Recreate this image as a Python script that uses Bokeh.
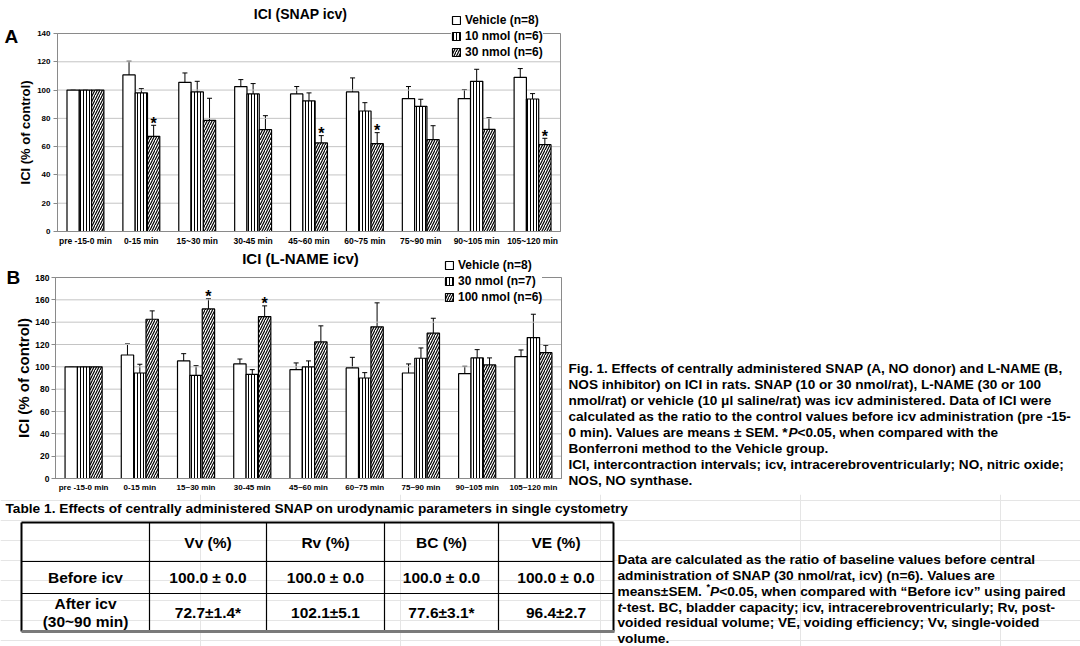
import numpy as np
from bokeh.plotting import figure
from bokeh.models import (ColumnDataSource, Range1d, FixedTicker, Whisker, TeeHead,
                          Legend, LegendItem)
from bokeh.layouts import column
from bokeh.embed import file_html
from bokeh.resources import INLINE
from bokeh.core.properties import value

FONT = "Liberation Sans"

# ---------------- data ----------------
time_labels = ["pre -15-0 min", "0-15 min", "15~30 min", "30-45 min", "45~60 min",
               "60~75 min", "75~90 min", "90~105 min", "105~120 min"]

# Panel A: ICI (SNAP icv)
snap_names = ["Vehicle (n=8)", "10 nmol (n=6)", "30 nmol (n=6)"]
snap_vehicle = [100, 110.7, 105.5, 102.5, 97.3, 98.7, 94.0, 94.0, 109.0]
snap_vehicle_sem = [0, 9.7, 6.6, 4.9, 5.2, 9.9, 8.5, 6.3, 6.2]
snap_10 = [100, 98.0, 98.7, 97.3, 92.3, 85.2, 88.5, 106.2, 93.7]
snap_10_sem = [0, 3.0, 7.5, 7.3, 5.7, 5.9, 5.0, 8.5, 3.8]
snap_30 = [100, 67.3, 78.6, 72.0, 62.6, 62.1, 64.9, 72.2, 61.4]
snap_30_sem = [0, 7.8, 15.6, 9.9, 5.2, 7.8, 9.9, 8.3, 4.5]
snap_30_sig = [False, True, False, False, True, True, False, False, True]

# Panel B: ICI (L-NAME icv)
lname_names = ["Vehicle (n=8)", "30 nmol (n=7)", "100 nmol (n=6)"]
lname_vehicle = [100, 110.6, 105.3, 102.6, 97.5, 99.0, 94.5, 93.9, 109.1]
lname_vehicle_sem = [0, 9.9, 6.5, 4.4, 6.0, 9.5, 8.1, 6.6, 6.0]
lname_30 = [100, 94.5, 92.4, 93.3, 99.9, 90.0, 107.7, 108.0, 126.2]
lname_30_sem = [0, 7.8, 8.6, 4.2, 5.4, 4.8, 9.2, 7.4, 20.9]
lname_100 = [100, 142.6, 151.9, 145.0, 122.3, 135.8, 130.1, 101.7, 112.7]
lname_100_sem = [0, 7.5, 9.0, 9.6, 14.4, 21.5, 13.4, 6.3, 6.6]
lname_100_sig = [False, False, True, True, False, False, False, False, False]

# Table 1
table_title = ("Table 1. Effects of centrally administered SNAP on urodynamic "
               "parameters in single cystometry")
table_columns = ["Vv (%)", "Rv (%)", "BC (%)", "VE (%)"]
table_before = ["100.0 \u00b1 0.0", "100.0 \u00b1 0.0", "100.0 \u00b1 0.0", "100.0 \u00b1 0.0"]
table_after = ["72.7\u00b11.4*", "102.1\u00b15.1", "77.6\u00b13.1*", "96.4\u00b12.7"]
row_before = "Before icv"
row_after = ["After icv", "(30~90 min)"]

fig_caption = [
    "Fig. 1. Effects of centrally administered SNAP (A, NO donor) and L-NAME (B,",
    "NOS inhibitor) on ICI in rats. SNAP (10 or 30 nmol/rat), L-NAME (30 or 100",
    "nmol/rat) or vehicle (10 \u03bcl saline/rat) was icv administered. Data of ICI were",
    "calculated as the ratio to the control values before icv administration (pre -15-",
    ["0 min). Values are means \u00b1 SEM. *", "P", "<0.05, when compared with the"],
    "Bonferroni method to the Vehicle group.",
    "ICI, intercontraction intervals; icv, intracerebroventricularly; NO, nitric oxide;",
    "NOS, NO synthase.",
]

table_note = [
    "Data are calculated as the ratio of baseline values before central",
    "administration of SNAP (30 nmol/rat, icv) (n=6). Values are",
    ["means\u00b1SEM. ", "*", "P", "<0.05, when compared with \u201cBefore icv\u201d using paired"],
    ["t", "-test. BC, bladder capacity; icv, intracerebroventricularly; Rv, post-"],
    "voided residual volume; VE, voiding efficiency; Vv, single-voided",
    "volume.",
]

GRID = "#c4c4c4"
AXIS = "#8a8a8a"
OFFSETS = [-0.22, 0.0, 0.22]
BAR_W = 0.22
HATCH = [dict(hatch_pattern=None),
         dict(hatch_pattern="vertical_line", hatch_scale=3, hatch_weight=1, hatch_color="black"),
         dict(hatch_pattern="right_diagonal_line", hatch_scale=5, hatch_weight=1.2, hatch_color="black")]
W = 1080  # canvas width (page has no margin with Bokeh's template)


def bar_panel(top0, fig_h, left, right, bottom0, top140, ymax, names, vals, sems, sig_series, sig,
              ylab_size, ytick_size, xtick_size, xstand, ystand, ylab_stand,
              legend_loc, legend_spacing, title, title_size, title_pos, letter, letter_pos):
    """All positions are page pixels of the reference; frame = whole canvas."""
    ncat = len(time_labels)
    sx = (right - left) / ncat
    sy = (bottom0 - top140) / ymax
    x0 = -0.5 - left / sx
    y0 = -((top0 + fig_h) - bottom0) / sy

    def X(px):
        return -0.5 + (px - left) / sx

    def Y(py):
        return (bottom0 - py) / sy

    p = figure(width=W, height=fig_h, x_range=Range1d(x0, x0 + W / sx),
               y_range=Range1d(y0, y0 + fig_h / sy),
               output_backend="svg", toolbar_location=None, min_border=0)
    p.outline_line_color = None
    p.background_fill_color = "white"
    p.xgrid.visible = False
    p.ygrid.visible = False

    yticks = list(range(0, ymax + 1, 20))
    p.segment(x0=[-0.5] * len(yticks), x1=[ncat - 0.5] * len(yticks), y0=yticks, y1=yticks,
              line_color=GRID, line_width=1)
    p.quad(left=[-0.5], right=[ncat - 0.5], bottom=[0], top=[ymax], fill_color=None,
           line_color=AXIS, line_width=1)

    ya = p.yaxis[0]
    ya.fixed_location = -0.5
    ya.bounds = (0, ymax)
    ya.ticker = FixedTicker(ticks=yticks)
    ya.axis_line_color = AXIS
    ya.major_tick_line_color = AXIS
    ya.major_tick_out = 4
    ya.major_tick_in = 0
    ya.minor_tick_line_color = None
    ya.major_label_text_font = FONT
    ya.major_label_text_font_style = "bold"
    ya.major_label_text_font_size = ytick_size
    ya.major_label_text_color = "black"
    ya.major_label_standoff = ystand
    ya.axis_label = "ICI (% of control)"
    ya.axis_label_text_font = FONT
    ya.axis_label_text_font_style = "bold"
    ya.axis_label_text_font_size = ylab_size
    ya.axis_label_text_color = "black"
    ya.axis_label_standoff = ylab_stand

    xa = p.xaxis[0]
    xa.fixed_location = 0
    xa.bounds = (-0.5, ncat - 0.5)
    xa.ticker = FixedTicker(ticks=list(range(ncat)))
    xa.major_label_overrides = {i: t for i, t in enumerate(time_labels)}
    xa.axis_line_color = AXIS
    xa.major_tick_line_color = None
    xa.major_tick_out = 0
    xa.major_tick_in = 0
    xa.minor_tick_line_color = None
    xa.major_label_text_font = FONT
    xa.major_label_text_font_style = "bold"
    xa.major_label_text_font_size = xtick_size
    xa.major_label_text_color = "black"
    xa.major_label_standoff = xstand

    idx = np.arange(ncat)
    items = []
    for k in range(3):
        v = np.array(vals[k], dtype=float)
        e = np.array(sems[k], dtype=float)
        src = ColumnDataSource(dict(x=idx + OFFSETS[k], top=v, lower=v, upper=v + e))
        r = p.vbar(x="x", top="top", bottom=0, width=BAR_W, source=src,
                   fill_color="white", line_color="black", line_width=1.2, **HATCH[k])
        p.add_layout(Whisker(source=src, base="x", lower="lower", upper="upper",
                             line_color="black", line_width=1, lower_head=None,
                             upper_head=TeeHead(size=5, line_color="black", line_width=1)))
        items.append(LegendItem(label=names[k], renderers=[r]))

    sv = np.array(vals[sig_series], dtype=float)
    se = np.array(sems[sig_series], dtype=float)
    sel = np.array(sig, dtype=bool)
    p.text(x=(idx + OFFSETS[sig_series])[sel], y=(sv + se)[sel], text=["*"] * int(sel.sum()),
           text_font=value(FONT), text_font_style="bold", text_font_size="16px",
           text_align="center", text_baseline="middle", y_offset=-2, text_color="black")

    legend = Legend(items=items, location=legend_loc, orientation="vertical",
                    glyph_width=10, glyph_height=10, label_standoff=4, spacing=legend_spacing,
                    padding=4, margin=0, label_height=14,
                    label_text_font=FONT, label_text_font_style="bold", label_text_font_size="12px",
                    label_text_color="black", border_line_color=None,
                    background_fill_color="white", background_fill_alpha=1.0)
    p.add_layout(legend)

    p.text(x=[X(title_pos[0])], y=[Y(title_pos[1])], text=[title], text_font=value(FONT),
           text_font_style="bold", text_font_size=title_size, text_align="center",
           text_baseline="middle", text_color="black")
    p.text(x=[X(letter_pos[0])], y=[Y(letter_pos[1])], text=[letter], text_font=value(FONT),
           text_font_style="bold", text_font_size="19px", text_align="left",
           text_baseline="middle", text_color="black")
    return p, X, Y


# ---------------- panel A ----------------
pA, XA, YA = bar_panel(top0=0, fig_h=250, left=57, right=560, bottom0=231, top140=33, ymax=140,
                       names=snap_names, vals=[snap_vehicle, snap_10, snap_30],
                       sems=[snap_vehicle_sem, snap_10_sem, snap_30_sem], sig_series=2,
                       sig=snap_30_sig, ylab_size="13px", ytick_size="8px", xtick_size="8.5px",
                       xstand=4, ystand=3, ylab_stand=1, legend_loc=(451, 191), legend_spacing=2,
                       title="ICI (SNAP icv)", title_size="14px", title_pos=(300, 13),
                       letter="A", letter_pos=(4, 35.5))

# ---------------- panel B ----------------
pB, XB, YB = bar_panel(top0=250, fig_h=244, left=55, right=561, bottom0=478, top140=277, ymax=180,
                       names=lname_names, vals=[lname_vehicle, lname_30, lname_100],
                       sems=[lname_vehicle_sem, lname_30_sem, lname_100_sem], sig_series=2,
                       sig=lname_100_sig, ylab_size="15px", ytick_size="8.5px", xtick_size="8px",
                       xstand=4, ystand=2, ylab_stand=0, legend_loc=(444, 190), legend_spacing=2,
                       title="ICI (L-NAME icv)", title_size="15px", title_pos=(300, 258),
                       letter="B", letter_pos=(6, 277))

CAP = "13.6px"
CTXT = dict(text_font=value(FONT), text_color="black", text_baseline="middle",
            text_align="left", text_font_size=CAP)
cap_x = 568
for k, line in enumerate(fig_caption):
    yy = YB(368 + 16.05 * k)
    if isinstance(line, str):
        pB.text(x=[XB(cap_x)], y=[yy], text=[line], text_font_style="bold", **CTXT)
    else:
        pB.text(x=[XB(cap_x)], y=[yy], text=[line[0]], text_font_style="bold", **CTXT)
        pB.text(x=[XB(cap_x + 220)], y=[yy], text=[line[1]], text_font_style="bold italic", **CTXT)
        pB.text(x=[XB(cap_x + 229)], y=[yy], text=[line[2]], text_font_style="bold", **CTXT)

# ---------------- table ----------------
pT = figure(width=W, height=152, x_range=Range1d(0, 1080), y_range=Range1d(646, 494),
            output_backend="svg", toolbar_location=None,
            x_axis_location=None, y_axis_location=None, min_border=0)
pT.outline_line_color = None
pT.background_fill_color = "white"

TXT = dict(text_font=value(FONT), text_font_style="bold", text_color="black",
           text_baseline="middle")

pT.text(x=[5], y=[508], text=[table_title], text_align="left", text_font_size="13.7px", **TXT)

col_edges = [21, 149, 266, 384, 498, 613]
row_edges = [522, 561, 593, 631]
col_mid = [(a + b) / 2 for a, b in zip(col_edges[:-1], col_edges[1:])]

pT.segment(x0=[col_edges[0]] * 2, x1=[col_edges[-1]] * 2, y0=row_edges[1:3], y1=row_edges[1:3],
           line_color="black", line_width=1.2)
pT.segment(x0=col_edges[1:-1], x1=col_edges[1:-1], y0=[row_edges[0]] * 4, y1=[row_edges[-1]] * 4,
           line_color="black", line_width=1.2)
pT.segment(x0=[col_edges[0], col_edges[0], col_edges[-1]], x1=[col_edges[-1], col_edges[0], col_edges[-1]],
           y0=[row_edges[0], row_edges[0], row_edges[0]], y1=[row_edges[0], row_edges[-1], row_edges[-1]],
           line_color="black", line_width=2)
pT.segment(x0=[col_edges[0]], x1=[col_edges[-1] + 1], y0=[row_edges[-1]], y1=[row_edges[-1]],
           line_color="#7a7a7a", line_width=3)

TS = "15.5px"
yh = (row_edges[0] + row_edges[1]) / 2
y1 = (row_edges[1] + row_edges[2]) / 2
y2 = (row_edges[2] + row_edges[3]) / 2
pT.text(x=col_mid[1:], y=[yh] * 4, text=table_columns, text_align="center", text_font_size=TS, **TXT)
pT.text(x=col_mid[1:], y=[y1] * 4, text=table_before, text_align="center", text_font_size=TS, **TXT)
pT.text(x=col_mid[1:], y=[y2] * 4, text=table_after, text_align="center", text_font_size=TS, **TXT)
pT.text(x=[col_mid[0]], y=[y1], text=[row_before], text_align="center", text_font_size=TS, **TXT)
pT.text(x=[col_mid[0], col_mid[0]], y=[y2 - 9, y2 + 9], text=row_after, text_align="center",
        text_font_size=TS, **TXT)

NS = "13.7px"
ITX = dict(text_font=value(FONT), text_font_style="bold italic", text_color="black",
           text_baseline="middle")
note_x = 617
for k, line in enumerate(table_note):
    y = 559 + 15.85 * k
    if isinstance(line, str):
        pT.text(x=[note_x], y=[y], text=[line], text_align="left", text_font_size=NS, **TXT)
    elif len(line) == 4:
        pT.text(x=[note_x], y=[y], text=[line[0]], text_align="left", text_font_size=NS, **TXT)
        pT.text(x=[note_x + 89], y=[y - 4], text=[line[1]], text_align="left", text_font_size="9px", **TXT)
        pT.text(x=[note_x + 92.5], y=[y], text=[line[2]], text_align="left", text_font_size=NS, **ITX)
        pT.text(x=[note_x + 101.7], y=[y], text=[line[3]], text_align="left", text_font_size=NS, **TXT)
    else:
        pT.text(x=[note_x], y=[y], text=[line[0]], text_align="left", text_font_size=NS, **ITX)
        pT.text(x=[note_x + 4.6], y=[y], text=[line[1]], text_align="left", text_font_size=NS, **TXT)

layout = column(pA, pB, pT, spacing=0)
open("out.html", "w").write(file_html(layout, INLINE))
